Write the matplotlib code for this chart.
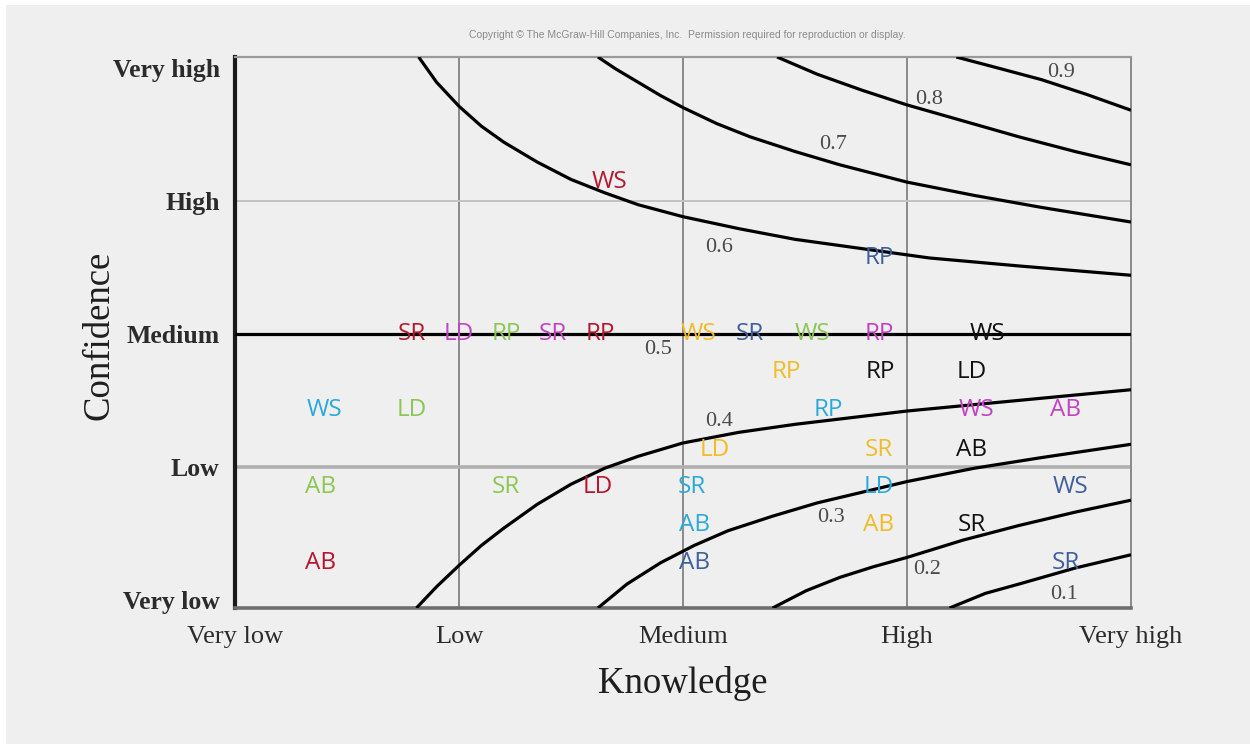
import matplotlib
matplotlib.use("Agg")
import matplotlib.pyplot as plt
from matplotlib.patches import Rectangle

# ---- axis categories -------------------------------------------------------
levels = ["Very low", "Low", "Medium", "High", "Very high"]

# ---- iso-lines (knowledge, confidence) ------------------------------------
curve_09_x = [3.22, 3.40, 3.60, 3.80, 4.00]
curve_09_y = [4.08, 4.00, 3.91, 3.80, 3.68]
curve_08_x = [2.42, 2.60, 2.80, 3.00, 3.25, 3.50, 3.75, 4.00]
curve_08_y = [4.08, 3.95, 3.83, 3.72, 3.60, 3.48, 3.37, 3.27]
curve_07_x = [1.62, 1.70, 1.80, 1.90, 2.00, 2.15, 2.30, 2.50, 2.70, 3.00, 3.30, 3.60, 4.00]
curve_07_y = [4.08, 3.99, 3.89, 3.79, 3.70, 3.58, 3.48, 3.37, 3.27, 3.14, 3.04, 2.95, 2.84]
curve_06_x = [0.82, 0.90, 1.00, 1.10, 1.20, 1.35, 1.50, 1.65, 1.80, 2.00, 2.25, 2.50,
              2.80, 3.10, 3.50, 4.00]
curve_06_y = [4.08, 3.89, 3.71, 3.56, 3.44, 3.29, 3.16, 3.06, 2.97, 2.88, 2.79, 2.71,
              2.64, 2.57, 2.51, 2.44]
curve_05_x = [0.00, 4.00]
curve_05_y = [2.00, 2.00]
curve_04_x = [0.81, 0.90, 1.00, 1.10, 1.20, 1.35, 1.50, 1.65, 1.80, 2.00, 2.25, 2.50,
              3.00, 3.50, 4.00]
curve_04_y = [-0.06, 0.10, 0.26, 0.41, 0.54, 0.72, 0.87, 0.99, 1.08, 1.18, 1.26, 1.32,
              1.42, 1.50, 1.58]
curve_03_x = [1.62, 1.75, 1.90, 2.05, 2.20, 2.40, 2.60, 2.80, 3.00, 3.30, 3.60, 4.00]
curve_03_y = [-0.06, 0.12, 0.28, 0.41, 0.52, 0.63, 0.73, 0.81, 0.89, 0.99, 1.07, 1.17]
curve_02_x = [2.40, 2.55, 2.70, 2.85, 3.00, 3.25, 3.50, 3.75, 4.00]
curve_02_y = [-0.06, 0.07, 0.17, 0.25, 0.32, 0.45, 0.56, 0.66, 0.75]
curve_01_x = [3.19, 3.35, 3.50, 3.75, 4.00]
curve_01_y = [-0.06, 0.05, 0.12, 0.24, 0.34]

curve_labels = ["0.9", "0.8", "0.7", "0.6", "0.5", "0.4", "0.3", "0.2", "0.1"]
curve_label_x = [3.69, 3.10, 2.67, 2.16, 1.89, 2.16, 2.66, 3.09, 3.70]
curve_label_y = [3.96, 3.76, 3.42, 2.65, 1.88, 1.34, 0.62, 0.23, 0.04]

# ---- rated items per group --------------------------------------------------
red_names = ["WS", "SR", "RP", "LD", "AB"]
red_x = [1.67, 0.79, 1.63, 1.62, 0.38]
red_y = [3.14, 2.00, 2.00, 0.85, 0.28]

magenta_names = ["LD", "SR", "RP", "WS", "AB"]
magenta_x = [1.00, 1.42, 2.875, 3.31, 3.71]
magenta_y = [2.00, 2.00, 2.00, 1.43, 1.43]

green_names = ["RP", "WS", "LD", "AB", "SR"]
green_x = [1.21, 2.58, 0.79, 0.38, 1.21]
green_y = [2.00, 2.00, 1.43, 0.85, 0.85]

navy_names = ["SR", "RP", "WS", "AB", "SR"]
navy_x = [2.30, 2.875, 3.73, 2.05, 3.71]
navy_y = [2.00, 2.57, 0.85, 0.28, 0.28]

cyan_names = ["WS", "RP", "SR", "LD", "AB"]
cyan_x = [0.40, 2.65, 2.04, 2.875, 2.05]
cyan_y = [1.43, 1.43, 0.85, 0.85, 0.56]

yellow_names = ["WS", "RP", "LD", "SR", "AB"]
yellow_x = [2.07, 2.46, 2.14, 2.875, 2.875]
yellow_y = [2.00, 1.71, 1.13, 1.13, 0.56]

black_names = ["WS", "RP", "LD", "AB", "SR"]
black_x = [3.36, 2.88, 3.29, 3.29, 3.29]
black_y = [2.00, 1.71, 1.71, 1.13, 0.56]

BG = "#efefef"

fig = plt.figure(figsize=(12.5, 7.44), dpi=100, facecolor="white")
fig.patches.append(Rectangle((6 / 1250, 0), 1, 1 - 5 / 744, transform=fig.transFigure,
                             facecolor=BG, edgecolor="none", zorder=-10))

ax = fig.add_axes([235 / 1250, 136 / 744, 896 / 1250, 551 / 744])
ax.set_facecolor(BG)
ax.set_xlim(0, 4)
ax.set_ylim(-0.06, 4.08)

# grid lines at the category levels
for xv in [1, 2, 3]:
    ax.axvline(xv, color="#8a8a8a", lw=1.4, zorder=1)
ax.axhline(3, color="#c2c2c2", lw=1.4, zorder=1)
ax.axhline(1, color="#b0b0b0", lw=2.6, zorder=1)

# iso-lines
curves = [(curve_09_x, curve_09_y), (curve_08_x, curve_08_y), (curve_07_x, curve_07_y),
          (curve_06_x, curve_06_y), (curve_05_x, curve_05_y), (curve_04_x, curve_04_y),
          (curve_03_x, curve_03_y), (curve_02_x, curve_02_y), (curve_01_x, curve_01_y)]
for cx, cy in curves:
    ax.plot(cx, cy, color="black", lw=2.3, solid_capstyle="butt",
            solid_joinstyle="round", zorder=3)

for lab, lx, ly in zip(curve_labels, curve_label_x, curve_label_y):
    ax.text(lx, ly, lab, ha="center", va="center", fontsize=16,
            family="Liberation Serif", color="#4a4a4a", zorder=4)

groups = [
    (red_names, red_x, red_y, "#b8162f"),
    (magenta_names, magenta_x, magenta_y, "#c441c4"),
    (green_names, green_x, green_y, "#8cc653"),
    (navy_names, navy_x, navy_y, "#3e5f9c"),
    (cyan_names, cyan_x, cyan_y, "#2aa9dc"),
    (yellow_names, yellow_x, yellow_y, "#f2bc26"),
    (black_names, black_x, black_y, "#111111"),
]
for names, gx, gy, col in groups:
    for n, x, y in zip(names, gx, gy):
        ax.text(x, y, n, ha="center", va="center", fontsize=17.5,
                family="Open Sans", color=col, zorder=5)

# frame
ax.spines["left"].set_color("#1a1a1a")
ax.spines["left"].set_linewidth(3.0)
ax.spines["bottom"].set_color("#6e6e6e")
ax.spines["bottom"].set_linewidth(2.6)
ax.spines["top"].set_color("#9a9a9a")
ax.spines["top"].set_linewidth(1.6)
ax.spines["right"].set_color("#8a8a8a")
ax.spines["right"].set_linewidth(1.4)

ax.set_xticks(range(5))
ax.set_xticklabels(levels, family="Liberation Serif", fontsize=19, color="#2b2b2b")
ax.set_yticks(range(5))
ax.set_yticklabels(levels, family="Liberation Serif", fontsize=18.5, color="#2b2b2b",
                   fontweight="bold")
ax.tick_params(axis="both", length=0)
ax.tick_params(axis="x", pad=13)
ax.tick_params(axis="y", pad=11)

ax.set_xlabel("Knowledge", family="Liberation Serif", fontsize=26.5, color="#1e1e1e",
              labelpad=13)
ax.set_ylabel("Confidence", family="Liberation Serif", fontsize=26.5, color="#1e1e1e",
              va="center")
ax.yaxis.set_label_coords(-0.151, 0.495)

fig.text(687 / 1250, 1 - 35 / 744,
         "Copyright \u00a9 The McGraw-Hill Companies, Inc.  Permission required for reproduction or display.",
         ha="center", va="center", fontsize=7.5, family="Liberation Sans", color="#8a8a8a")

fig.savefig("out.png", dpi=100, facecolor=fig.get_facecolor())
